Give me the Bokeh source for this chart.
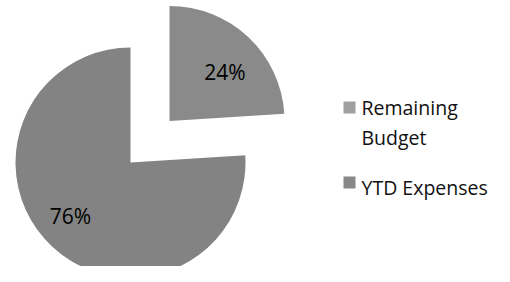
import math
from bokeh.plotting import figure
from bokeh.models import Range1d, ColumnDataSource
from bokeh.core.properties import value
from bokeh.embed import file_html
from bokeh.resources import INLINE

# Data
categories = ["Remaining Budget", "YTD Expenses"]
legend_lines = ["Remaining\nBudget", "YTD Expenses"]
shares = [24, 76]
colors = ["#8a8a8a", "#838383"]
swatch_colors = ["#a0a0a0", "#888888"]

W, H = 494, 266
# data coords: x = screen x, y = 282 - screen y (figure drawn at page origin)
p = figure(width=W, height=H, output_backend="svg", toolbar_location=None,
           x_range=Range1d(0, W), y_range=Range1d(282 - H, 282),
           min_border=0)
p.axis.visible = False
p.grid.visible = False
p.outline_line_color = None
p.background_fill_color = "white"

cx, cy = 130, 120  # pie centre
R = 115
explode = 57
label_r = [0.645, 0.70]
label_rot = math.radians(-5)

total = float(sum(shares))
xs, ys, starts, ends, lx, ly, labels = [], [], [], [], [], [], []
a = math.pi / 2  # start at 12 o'clock, go clockwise
for i, v in enumerate(shares):
    span = v / total * 2 * math.pi
    end = a
    start = a - span
    mid = (start + end) / 2
    off = explode if i == 0 else 0
    ox = cx + off * math.cos(mid)
    oy = cy + off * math.sin(mid)
    xs.append(ox); ys.append(oy)
    starts.append(start); ends.append(end)
    lx.append(ox + label_r[i] * R * math.cos(mid + label_rot))
    ly.append(oy + label_r[i] * R * math.sin(mid + label_rot))
    labels.append(f"{v}%")
    a = start

src = ColumnDataSource(dict(x=xs, y=ys, s=starts, e=ends, c=colors,
                            lx=lx, ly=ly, lab=labels))
p.wedge(x="x", y="y", radius=R, start_angle="s", end_angle="e",
        fill_color="c", line_color=None, source=src)
p.text(x="lx", y="ly", text="lab", source=src, text_align="center",
       text_baseline="middle", text_font=value("Open Sans"),
       text_font_size="21px", text_color="black")

# Legend (manual), screen y positions
sw_x = 349
sw_y = [107, 182]
txt_x = 361
txt_top = [93, 173]
p.rect(x=[sw_x] * 2, y=[282 - y for y in sw_y], width=12, height=12,
       fill_color=swatch_colors, line_color=None)
p.text(x=[txt_x] * 2, y=[282 - y for y in txt_top], text=legend_lines,
       text_align="left", text_baseline="top", text_font=value("Open Sans"),
       text_font_size="19.5px", text_color="#111111", text_line_height=1.13)

open("out.html", "w").write(file_html(p, INLINE))
